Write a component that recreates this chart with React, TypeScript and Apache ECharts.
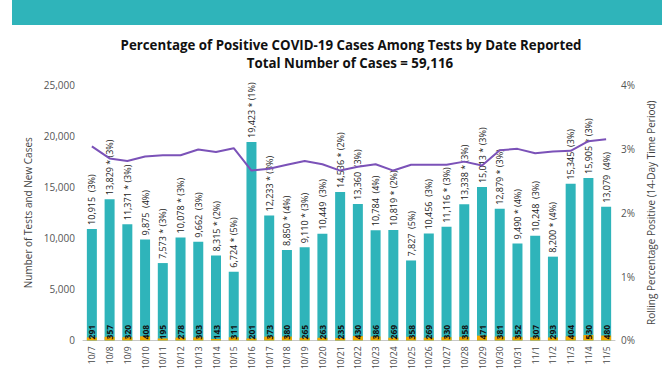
import React, { useEffect, useRef } from "react";
import * as echarts from "echarts";

const dates = ["10/7","10/8","10/9","10/10","10/11","10/12","10/13","10/14","10/15","10/16","10/17","10/18","10/19","10/20","10/21","10/22","10/23","10/24","10/25","10/26","10/27","10/28","10/29","10/30","10/31","11/1","11/2","11/3","11/4","11/5"];
const tests = [10915,13829,11371,9875,7573,10078,9662,8315,6724,19423,12233,8850,9110,10449,14536,13360,10784,10819,7827,10456,11116,13338,15013,12879,9490,10248,8200,15345,15905,13079];
const cases = [291,357,320,408,195,278,303,143,311,201,373,380,265,263,235,430,386,269,358,269,330,358,471,381,352,307,293,404,530,480];
const dailyPct = [3,3,3,4,3,3,3,2,5,1,3,4,3,3,2,3,4,2,5,3,3,3,3,3,4,3,4,3,3,4];
const flagged = [false,true,true,false,true,true,false,true,true,true,true,true,true,false,true,false,false,true,false,false,true,true,true,true,true,false,true,false,true,false];
const rollingPct = [3.04,2.85,2.81,2.88,2.90,2.90,2.99,2.95,3.01,2.66,2.69,2.75,2.81,2.76,2.66,2.72,2.76,2.66,2.75,2.75,2.75,2.80,2.74,2.98,3.00,2.93,2.96,2.97,3.12,3.15];
const leftTicks = { min: 0, max: 25000, interval: 5000 };
const rightTicks = { min: 0, max: 4, interval: 1 };

const fmt = (n: number) => n.toLocaleString("en-US");

export default function App() {
  const ref = useRef<HTMLDivElement>(null);
  useEffect(() => {
    if (!ref.current) return;
    const chart = echarts.init(ref.current, null, { renderer: "svg" });
    const font = "'Open Sans', 'Liberation Sans', sans-serif";
    chart.setOption({
      animation: false,
      textStyle: { fontFamily: font },
      graphic: [
        { type: "rect", shape: { x: 12, y: 0, width: 650, height: 25 }, style: { fill: "#2fb4ba" } },
        { type: "text", x: 351, y: 45, style: { text: "Percentage of Positive COVID-19 Cases Among Tests by Date Reported", font: "bold 13.3px " + font, fill: "#111", align: "center", verticalAlign: "middle" } },
        { type: "text", x: 350, y: 63, style: { text: "Total Number of Cases = 59,116", font: "bold 13.3px " + font, fill: "#111", align: "center", verticalAlign: "middle" } },
      ],
      grid: { left: 83, right: 57, top: 85, bottom: 29 },
      xAxis: {
        type: "category",
        data: dates,
        axisLine: { lineStyle: { color: "#c8c8c8", width: 1 } },
        axisTick: { show: false },
        axisLabel: { rotate: 90, fontSize: 8.5, color: "#444", margin: 6, interval: 0 },
      },
      yAxis: [
        {
          type: "value",
          ...leftTicks,
          name: "Number of Tests and New Cases",
          nameLocation: "middle",
          nameGap: 37,
          nameTextStyle: { fontSize: 10, color: "#444" },
          splitLine: { show: false },
          axisLabel: { fontSize: 10, color: "#555", margin: 8, formatter: (v: number) => fmt(v) },
        },
        {
          type: "value",
          ...rightTicks,
          name: "Rolling Percentage Positive (14-Day Time Period)",
          nameLocation: "middle",
          nameGap: 26,
          nameRotate: 90,
          nameTextStyle: { fontSize: 10, color: "#444" },
          splitLine: { show: false },
          axisLabel: { fontSize: 10, color: "#555", margin: 6, formatter: (v: number) => v + "%" },
        },
      ],
      series: [
        {
          type: "bar",
          data: tests,
          barWidth: 10,
          itemStyle: { color: "#2fb4ba" },
          label: {
            show: true,
            position: "top",
            rotate: 90,
            align: "left",
            verticalAlign: "middle",
            distance: 4,
            fontSize: 9,
            color: "#222",
            formatter: (p: any) => fmt(tests[p.dataIndex]) + (flagged[p.dataIndex] ? " * " : "  ") + "(" + dailyPct[p.dataIndex] + "%)",
          },
          z: 2,
        },
        {
          type: "bar",
          data: cases,
          barWidth: 10,
          barGap: "-100%",
          itemStyle: { color: "#f2a900" },
          label: {
            show: true,
            position: "insideBottom",
            rotate: 90,
            align: "left",
            verticalAlign: "middle",
            distance: 1,
            fontSize: 8.5,
            fontWeight: "bold",
            color: "#111",
          },
          z: 3,
        },
        {
          type: "line",
          yAxisIndex: 1,
          data: rollingPct,
          symbol: "none",
          lineStyle: { color: "#7b52b8", width: 2 },
          z: 4,
        },
      ],
    });
    return () => chart.dispose();
  }, []);
  return <div ref={ref} style={{ width: 672, height: 372, position: "absolute", left: 0, top: 0, background: "#fff" }} />;
}
